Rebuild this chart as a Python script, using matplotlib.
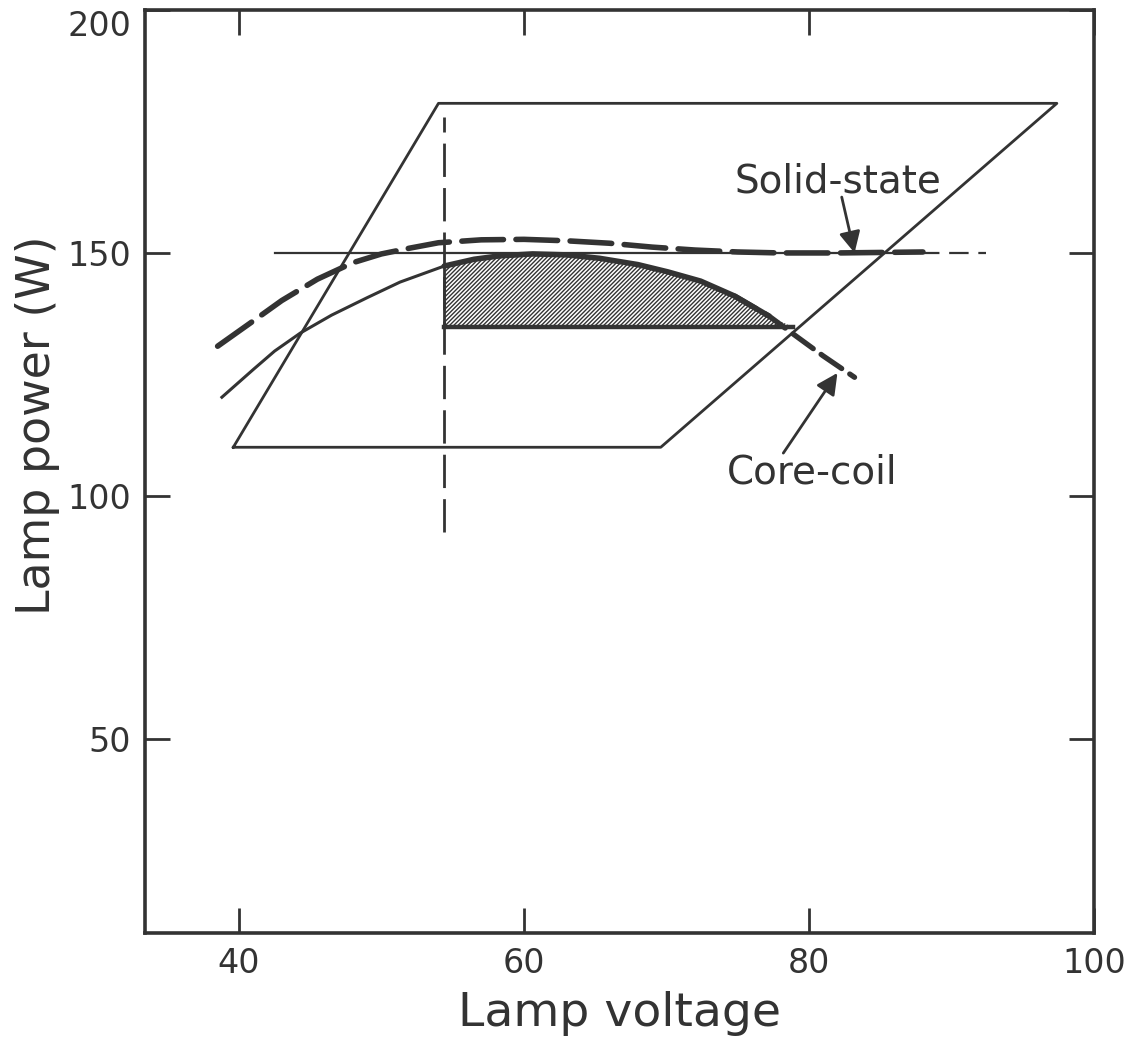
import numpy as np
import matplotlib
matplotlib.use("Agg")
import matplotlib.pyplot as plt

plt.rcParams['font.family'] = ['DejaVu Sans']
plt.rcParams['lines.scale_dashes'] = False
plt.rcParams['hatch.linewidth'] = 1.0

INK = '#333333'

# operating window (parallelogram)
box_v = [39.6, 54.0, 97.4, 69.6, 39.6]
box_p = [110.0, 180.8, 180.8, 110.0, 110.0]

# solid-state ballast curve
ss_v = [38.5, 41.0, 43.0, 45.5, 48.0, 50.0, 52.0, 54.0, 57.0, 60.0, 63.0, 66.0, 69.0, 72.0, 75.0, 78.0, 82.0, 85.0, 88.0]
ss_p = [130.8, 136.0, 140.2, 144.6, 148.0, 149.8, 151.0, 152.1, 152.7, 152.8, 152.5, 152.0, 151.2, 150.6, 150.2, 150.0, 150.0, 150.1, 150.2]

# core-coil ballast curve
cc_v = [38.8, 41.0, 42.5, 44.3, 46.5, 49.0, 51.3, 54.4, 56.5, 58.3, 60.6, 63.0, 65.3, 68.0, 70.1, 72.4, 74.8, 77.2, 78.9, 81.0, 83.2]
cc_p = [120.3, 126.0, 129.8, 133.5, 137.2, 140.8, 144.0, 147.3, 148.7, 149.4, 149.8, 149.6, 148.9, 147.6, 146.1, 144.2, 141.1, 137.0, 133.3, 128.8, 124.4]

rated_power = 150.0
min_voltage = 54.4
hatch_floor = 134.7

fig = plt.figure(figsize=(11.28, 10.48), dpi=100)
ax = fig.add_axes([0.1285, 0.1097, 0.8413, 0.8807])

# window
ax.plot(box_v, box_p, color=INK, lw=2.0, solid_joinstyle='round')

# rated power line
ax.plot([42.5, 87.8], [rated_power, rated_power], color=INK, lw=1.6)
ax.plot([87.8, 92.4], [rated_power, rated_power], color=INK, lw=1.6, dashes=(14, 7))

# minimum voltage line
ax.plot([min_voltage, min_voltage], [92.5, 178.0], color=INK, lw=2.0, dashes=(24, 8))

# solid-state
ax.plot(ss_v, ss_p, color=INK, lw=4.0, dashes=(30, 9), solid_capstyle='round', dash_capstyle='round')

# core-coil
i_dash = cc_v.index(74.8)
ax.plot(cc_v[:i_dash + 1], cc_p[:i_dash + 1], color=INK, lw=2.2)
ax.plot(cc_v[i_dash:], cc_p[i_dash:], color=INK, lw=3.8, dashes=(18, 7), dash_capstyle='round')

# hatched region
i0 = cc_v.index(min_voltage)
i1 = cc_v.index(78.9)
hv = np.array(cc_v[i0:i1 + 1])
hp = np.array(cc_p[i0:i1 + 1])
ax.fill_between(hv, np.maximum(hp, hatch_floor), hatch_floor, facecolor='none',
                edgecolor=INK, hatch='////////', lw=0)
ax.plot(hv[:-1], hp[:-1], color=INK, lw=4.0, solid_capstyle='round')
ax.plot([min_voltage, hv[-1]], [hatch_floor, hatch_floor], color=INK, lw=3.2)
ax.plot([min_voltage, min_voltage], [hatch_floor, hp[0]], color=INK, lw=2.0)

arrow = dict(arrowstyle='-|>', color=INK, lw=2.0, mutation_scale=32,
             shrinkA=0, shrinkB=0)
ax.annotate('', xy=(83.2, 150.0), xytext=(82.3, 161.5), arrowprops=arrow)
ax.annotate('', xy=(82.0, 125.3), xytext=(78.2, 108.8), arrowprops=arrow)
ax.text(82.0, 164.8, 'Solid-state', ha='center', va='center', fontsize=28, color=INK)
ax.text(80.2, 104.8, 'Core-coil', ha='center', va='center', fontsize=28, color=INK)

ax.set_xlim(33.4, 100)
ax.set_ylim(10, 200)
ax.set_xticks([40, 60, 80, 100])
ax.set_yticks([50, 100, 150, 200])
ax.tick_params(direction='in', length=18, width=2.0, colors=INK, labelsize=24,
               top=True, right=True, pad=10)
for lab in ax.get_yticklabels():
    if lab.get_text() == '200':
        lab.set_va('top')
for s in ax.spines.values():
    s.set_linewidth(2.6)
    s.set_color(INK)

ax.set_xlabel('Lamp voltage', fontsize=34, color=INK, labelpad=8)
ax.set_ylabel('Lamp power (W)', fontsize=33, color=INK)
ax.yaxis.set_label_coords(-0.09, 0.55)

fig.savefig('out.png', dpi=100)
